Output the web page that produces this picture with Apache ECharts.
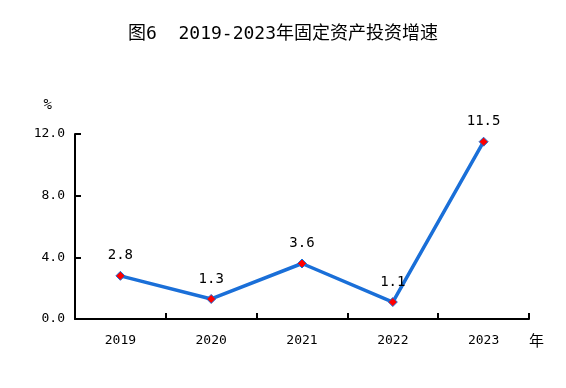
<!DOCTYPE html>
<html><head><meta charset="utf-8">
<script src="https://cdn.jsdelivr.net/npm/echarts@6/dist/echarts.min.js"></script>
<style>html,body{margin:0;padding:0;background:#fff}#c{width:566px;height:388px}</style>
</head><body><div id="c"></div>
<script>
const titleText = '图6  2019-2023年固定资产投资增速';
const categories = ['2019', '2020', '2021', '2022', '2023'];
const growth = [2.8, 1.3, 3.6, 1.1, 11.5];
const yMin = 0, yMax = 12, yInterval = 4;

const chart = echarts.init(document.getElementById('c'), null, {renderer: 'canvas'});
const mono = '"DejaVu Sans Mono", monospace';
chart.setOption({
  animation: false,
  backgroundColor: '#fff',
  title: {
    text: titleText, left: 'center', top: 20,
    textStyle: {fontFamily: '"DejaVu Sans Mono", "Noto Sans CJK SC"', fontSize: 18, fontWeight: 'normal', color: '#000'}
  },
  grid: {left: 75, right: 37, top: 134, bottom: 69},
  xAxis: {
    type: 'category', data: categories, boundaryGap: true,
    name: '年', nameLocation: 'end', nameGap: 0,
    nameTextStyle: {fontFamily: '"Noto Sans CJK SC"', fontSize: 15, color: '#000', verticalAlign: 'top', padding: [14, 0, 0, 0]},
    axisLine: {lineStyle: {color: '#000', width: 2}},
    axisTick: {show: true, inside: true, length: 6, alignWithLabel: false, lineStyle: {color: '#000', width: 2}},
    axisLabel: {fontFamily: mono, fontSize: 13, color: '#000', margin: 15}
  },
  yAxis: {
    type: 'value', min: yMin, max: yMax, interval: yInterval,
    name: '%', nameLocation: 'end', nameGap: 22,
    nameTextStyle: {fontFamily: mono, fontSize: 14, color: '#000', align: 'right', padding: [0, 23, 0, 0]},
    axisLine: {show: true, lineStyle: {color: '#000', width: 2}},
    axisTick: {show: true, inside: true, length: 6, lineStyle: {color: '#000', width: 2}},
    splitLine: {show: false},
    axisLabel: {fontFamily: mono, fontSize: 13, color: '#000', margin: 10, formatter: v => v.toFixed(1)}
  },
  series: [{
    type: 'line', data: growth,
    symbol: 'diamond', symbolSize: 9,
    lineStyle: {color: '#1a6fd8', width: 3.5},
    itemStyle: {color: '#ff0000', borderColor: '#1a6fd8', borderWidth: 1},
    label: {show: true, position: 'top', distance: 8, fontFamily: mono, fontSize: 14, color: '#000', formatter: p => p.value.toFixed(1)}
  }]
});
</script></body></html>
